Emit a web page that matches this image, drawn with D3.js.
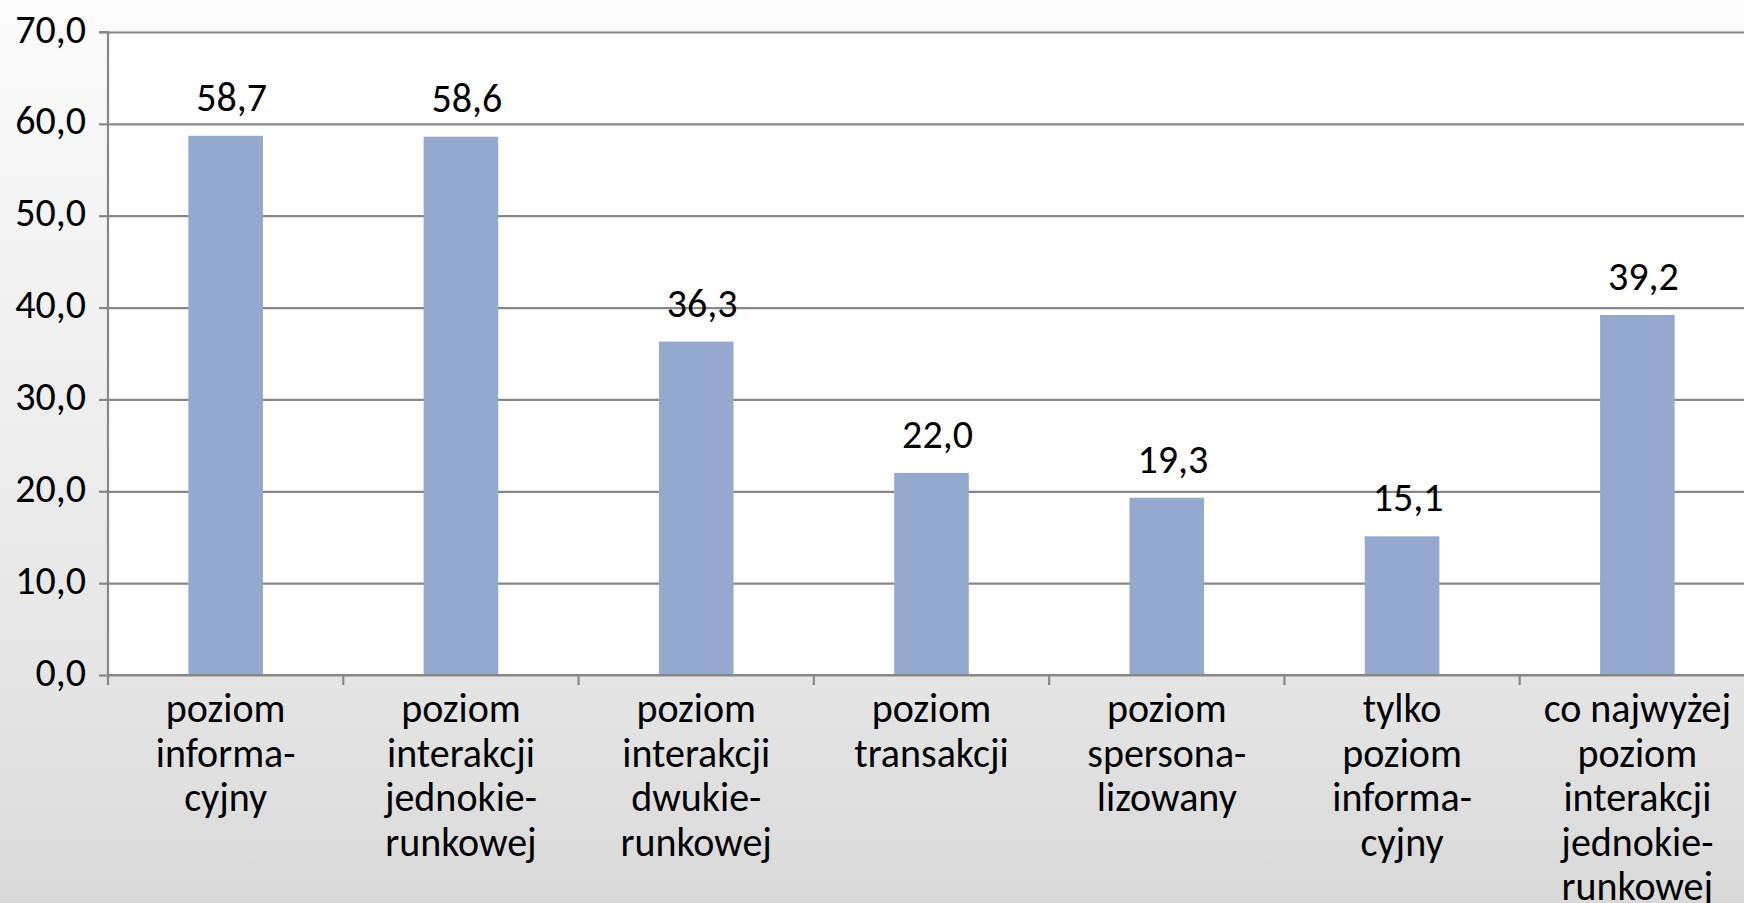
<!DOCTYPE html>
<html>
<head>
<meta charset="utf-8">
<script src="https://cdn.jsdelivr.net/npm/d3@7"></script>
<style>
  html, body { margin: 0; padding: 0; background: #ffffff; }
  svg { display: block; }
  text { font-family: "Carlito", "Calibri", "Lato", sans-serif; fill: #000; }
</style>
</head>
<body>
<script>
// Category labels, split into the lines they are printed on under the axis
const categories = [
  ["poziom", "informa-", "cyjny"],
  ["poziom", "interakcji", "jednokie-", "runkowej"],
  ["poziom", "interakcji", "dwukie-", "runkowej"],
  ["poziom", "transakcji"],
  ["poziom", "spersona-", "lizowany"],
  ["tylko", "poziom", "informa-", "cyjny"],
  ["co najwyżej", "poziom", "interakcji", "jednokie-", "runkowej"]
];
const values = [58.7, 58.6, 36.3, 22.0, 19.3, 15.1, 39.2];
const yTicks = [0, 10, 20, 30, 40, 50, 60, 70];

const W = 1744, H = 903;
const m = { left: 108, top: 32, bottom: 675, right: 1755 };
const FS = 40;          // font size of all texts
const SY = 1.05;        // slight vertical stretch of the number glyphs
const GRID = "#878787";

const plLocale = d3.formatLocale({ decimal: ",", thousands: " ", grouping: [3], currency: ["", " zł"] });
const fmt = plLocale.format(".1f");

const svg = d3.select("body").append("svg").attr("width", W).attr("height", H);

// page background: soft vertical grey gradient
const grad = svg.append("defs").append("linearGradient")
  .attr("id", "bg").attr("x1", 0).attr("y1", 0).attr("x2", 0).attr("y2", 1);
grad.append("stop").attr("offset", "0%").attr("stop-color", "#fbfbfb");
grad.append("stop").attr("offset", "75%").attr("stop-color", "#e5e5e5");
grad.append("stop").attr("offset", "100%").attr("stop-color", "#d9d9d9");
svg.append("rect").attr("width", W).attr("height", H).attr("fill", "url(#bg)");

const ids = categories.map((d, i) => i);
const x = d3.scaleBand().domain(ids).range([m.left, m.right]).paddingInner(0.683).paddingOuter(0.3415);
const slot = d3.scaleBand().domain(ids).range([m.left, m.right]).padding(0);
const y = d3.scaleLinear().domain([0, 70]).range([m.bottom, m.top]);

// white plot area
svg.append("rect")
  .attr("x", m.left).attr("y", m.top)
  .attr("width", m.right - m.left).attr("height", m.bottom - m.top)
  .attr("fill", "#ffffff");

// horizontal gridlines
const gGrid = svg.append("g").attr("transform", `translate(${m.left},0)`)
  .call(d3.axisLeft(y).tickValues(yTicks).tickSize(-(m.right - m.left)).tickFormat(""));
gGrid.select(".domain").remove();
gGrid.selectAll(".tick line").attr("stroke", GRID).attr("stroke-width", 2.2);

// bars
svg.append("g").selectAll("rect").data(values).join("rect")
  .attr("x", (d, i) => x(i))
  .attr("y", d => y(d))
  .attr("width", x.bandwidth())
  .attr("height", d => y(0) - y(d))
  .attr("fill", "#95a9cf");

// y axis: outer ticks and labels
const gY = svg.append("g").attr("transform", `translate(${m.left},0)`)
  .call(d3.axisLeft(y).tickValues(yTicks).tickSize(9).tickPadding(13).tickFormat(fmt));
gY.select(".domain").attr("stroke", GRID).attr("stroke-width", 2.2).attr("d", `M-9,${m.top}H0V${m.bottom}`);
gY.selectAll(".tick line").attr("stroke", GRID).attr("stroke-width", 2.2);
gY.selectAll(".tick text")
  .attr("font-size", FS).attr("font-family", null).attr("fill", "#000")
  .attr("dy", null).attr("y", 10 / SY)
  .attr("transform", `scale(1,${SY})`);

// x axis line and category separators
svg.append("line").attr("x1", m.left).attr("x2", W).attr("y1", m.bottom).attr("y2", m.bottom)
  .attr("stroke", GRID).attr("stroke-width", 2.2);
svg.append("g").selectAll("line").data(d3.range(0, ids.length + 1)).join("line")
  .attr("x1", i => m.left + i * slot.step()).attr("x2", i => m.left + i * slot.step())
  .attr("y1", m.bottom).attr("y2", m.bottom + 10)
  .attr("stroke", GRID).attr("stroke-width", 2.2);

// value labels above the bars
svg.append("g").selectAll("g").data(values).join("g")
  .attr("transform", (d, i) => `translate(${x(i) + x.bandwidth() / 2 + 6},${y(d) - 25}) scale(1,${SY})`)
  .append("text")
  .attr("text-anchor", "middle")
  .attr("font-size", FS)
  .text(d => fmt(d));

// category labels: one text per category, one tspan per line
const LINE0 = 722, LINE_H = 44.5;
svg.append("g").selectAll("text").data(categories).join("text")
  .attr("transform", (d, i) => `translate(${slot(i) + slot.bandwidth() / 2},${LINE0})`)
  .attr("text-anchor", "middle")
  .attr("font-size", FS)
  .selectAll("tspan").data(d => d).join("tspan")
  .attr("x", 0)
  .attr("dy", (t, j) => j === 0 ? 0 : LINE_H)
  .text(t => t);
</script>
</body>
</html>
